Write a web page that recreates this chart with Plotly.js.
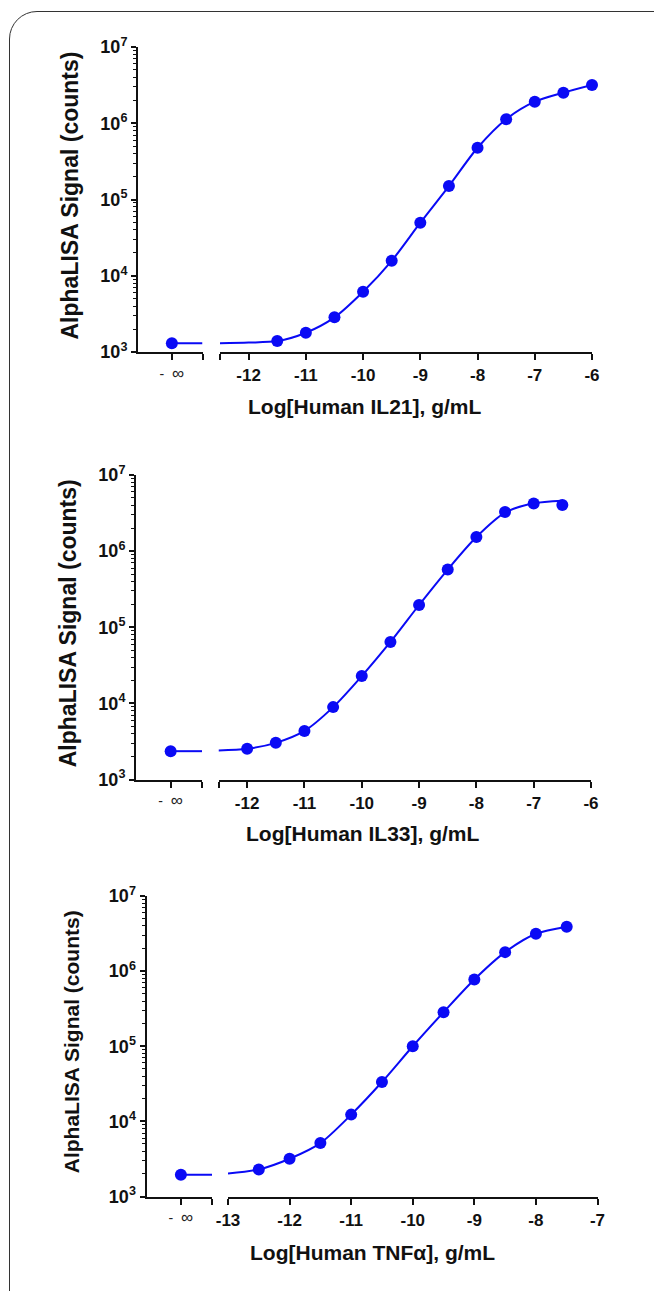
<!DOCTYPE html>
<html><head><meta charset="utf-8">
<script src="https://cdn.plot.ly/plotly-3.0.1.min.js"></script>
<style>
html,body{margin:0;padding:0;background:#fff;overflow:hidden;width:654px;height:1291px;}
#frame{position:absolute;left:9px;top:11px;width:700px;height:1400px;border:1.5px solid #333;border-radius:28px;box-sizing:border-box;}
#chart{position:absolute;left:0;top:0;width:654px;height:1291px;}
</style></head><body>
<div id="frame"></div>
<div id="chart"></div>
<script>
// ---------- data ----------
// measured points (log10 g/mL vs AlphaLISA counts)
const il21X = [-11.5,-11,-10.5,-10,-9.5,-9,-8.5,-8,-7.5,-7,-6.5,-6];
const il21Y = [1390,1790,2850,6180,15700,49600,150000,477000,1130000,1920000,2520000,3180000];
const il21Zero = 1300;   // signal at zero concentration (-inf)
// fitted curve
const il21FitX = [-12.5,-12,-11.5,-11,-10.5,-10,-9.5,-9,-8.5,-8,-7.5,-7,-6.5,-6];
const il21FitY = [1300,1330,1390,1790,2850,6180,15700,49600,150000,477000,1130000,1920000,2520000,3180000];

const il33X = [-12,-11.5,-11,-10.5,-10,-9.5,-9,-8.5,-8,-7.5,-7,-6.5];
const il33Y = [2530,3030,4350,8930,22850,64100,196000,573000,1530000,3260000,4230000,4030000];
const il33Zero = 2355;
const il33FitX = [-12.5,-12,-11.5,-11,-10.5,-10,-9.5,-9,-8.5,-8,-7.5,-7,-6.5];
const il33FitY = [2400,2530,3030,4350,8930,22850,64100,196000,573000,1530000,3200000,4250000,4600000];

const tnfX = [-12.5,-12,-11.5,-11,-10.5,-10,-9.5,-9,-8.5,-8,-7.5];
const tnfY = [2290,3180,5140,12300,33400,100000,284000,774000,1790000,3140000,3900000];
const tnfZero = 1947;
const tnfFitX = [-13,-12.5,-12,-11.5,-11,-10.5,-10,-9.5,-9,-8.5,-8,-7.5];
const tnfFitY = [2030,2290,3180,5140,12300,33400,100000,284000,774000,1790000,3140000,3900000];

const ticks1 = [-12,-11,-10,-9,-8,-7,-6];
const ticks2 = [-12,-11,-10,-9,-8,-7,-6];
const ticks3 = [-13,-12,-11,-10,-9,-8,-7];
const tickLabels1 = ['-12','-11','-10','-9','-8','-7','-6'];
const tickLabels2 = ['-12','-11','-10','-9','-8','-7','-6'];
const tickLabels3 = ['-13','-12','-11','-10','-9','-8','-7'];
const yTickVals = [1e3,1e4,1e5,1e6,1e7];
const yTickText = ['10<sup>3</sup>','10<sup>4</sup>','10<sup>5</sup>','10<sup>6</sup>','10<sup>7</sup>'];
const infLabel = '-  <span style="font-size:17px">\u221E</span>';
const xTitles = ['Log[Human IL21], g/mL','Log[Human IL33], g/mL','Log[Human TNF\u03B1], g/mL'];
const yTitle = 'AlphaLISA Signal (counts)';

// ---------- layout helpers ----------
const W = 654, H = 1291;
const BLUE = 'rgb(10,10,245)';
const FONT = 'Liberation Sans, Arial, sans-serif';
const px = v => v / W;
const py = v => (H - v) / H;
const infRange = [-1.05, 0.95];

const panels = [
  {x: il21X, y: il21Y, zero: il21Zero, fx: il21FitX, fy: il21FitY, range: [-12.5, -6], ticks: ticks1, labels: tickLabels1,
   yTop: 47, yBot: 352, ax: 138, infEnd: 202.5, mainStart: 220, mainEnd: 592, titleY: 406, titleX: 365, ytX: 69, ytsize: 23},
  {x: il33X, y: il33Y, zero: il33Zero, fx: il33FitX, fy: il33FitY, range: [-12.5, -6], ticks: ticks2, labels: tickLabels2,
   yTop: 475, yBot: 779.5, ax: 136, infEnd: 202, mainStart: 218.5, mainEnd: 591, titleY: 833, titleX: 363, ytX: 68, ytsize: 23},
  {x: tnfX, y: tnfY, zero: tnfZero, fx: tnfFitX, fy: tnfFitY, range: [-13, -7], ticks: ticks3, labels: tickLabels3,
   yTop: 896, yBot: 1196.5, ax: 146.5, infEnd: 212, mainStart: 228, mainEnd: 597.5, titleY: 1252, titleX: 372, ytX: 71, ytsize: 21}
];

const data = [];
const layout = {
  width: W, height: H,
  margin: {l: 0, r: 0, t: 0, b: 0},
  paper_bgcolor: 'rgba(0,0,0,0)', plot_bgcolor: 'rgba(0,0,0,0)',
  showlegend: false,
  font: {family: FONT, color: '#111'},
  annotations: []
};

panels.forEach((p, i) => {
  const xi = 2 * i + 1, xm = 2 * i + 2, yi = i + 1;
  const xInf = 'x' + xi, xMain = 'x' + xm, yRef = 'y' + yi;
  const xInfKey = 'xaxis' + (xi === 1 ? '' : xi), xMainKey = 'xaxis' + xm, yKey = 'yaxis' + (yi === 1 ? '' : yi);

  // zero-concentration segment: fitted baseline + point
  data.push({x: [0, infRange[1]], y: [p.zero, p.zero], xaxis: xInf, yaxis: yRef, mode: 'lines',
             line: {color: BLUE, width: 2}, cliponaxis: false, hoverinfo: 'skip'});
  data.push({x: [0], y: [p.zero], xaxis: xInf, yaxis: yRef, mode: 'markers',
             marker: {color: BLUE, size: 12}, cliponaxis: false});
  // fitted curve on main segment
  data.push({x: p.fx, y: p.fy, xaxis: xMain, yaxis: yRef, mode: 'lines',
             line: {color: BLUE, width: 2, shape: 'spline', smoothing: 0.8}, cliponaxis: false, hoverinfo: 'skip'});
  data.push({x: p.x, y: p.y, xaxis: xMain, yaxis: yRef, mode: 'markers',
             marker: {color: BLUE, size: 12}, cliponaxis: false});

  const axCommon = {showline: true, linecolor: '#111', linewidth: 2, ticks: 'outside', tickcolor: '#111',
                    tickwidth: 2, ticklen: 6, showgrid: false, zeroline: false, fixedrange: true};
  const capTick = v => ({tickmode: 'array', tickvals: [v], ticks: 'outside', ticklen: 6, tickwidth: 2, tickcolor: '#111', showgrid: false});
  layout[xInfKey] = Object.assign({}, axCommon, {
    domain: [px(p.ax), px(p.infEnd)], range: infRange, anchor: yRef,
    tickmode: 'array', tickvals: [0], ticktext: [infLabel],
    tickfont: {family: FONT, size: 14, color: '#222'}, ticklabelstandoff: 2,
    minor: capTick(infRange[1])
  });
  layout[xMainKey] = Object.assign({}, axCommon, {
    domain: [px(p.mainStart), px(p.mainEnd)], range: p.range, anchor: yRef,
    tickmode: 'array', tickvals: p.ticks, ticktext: p.labels,
    tickfont: {family: FONT, size: 17, weight: 'bold', color: '#111'}, ticklabelstandoff: 1,
    minor: capTick(p.range[0])
  });
  layout[yKey] = Object.assign({}, axCommon, {
    type: 'log', range: [3, 7], domain: [py(p.yBot), py(p.yTop)], anchor: xInf,
    tickmode: 'array', tickvals: yTickVals, ticktext: yTickText, ticklen: 5,
    tickfont: {family: FONT, size: 18, weight: 'bold', color: '#111'}, ticklabelstandoff: 0,
    minor: {ticks: 'outside', ticklen: 3, tickwidth: 1, tickcolor: '#111', dtick: 'D1', showgrid: false}
  });

  layout.annotations.push({xref: 'paper', yref: 'paper', x: px(p.titleX), y: py(p.titleY), text: xTitles[i],
    showarrow: false, xanchor: 'center', yanchor: 'middle',
    font: {family: FONT, size: 21, weight: 'bold', color: '#111'}});
  layout.annotations.push({xref: 'paper', yref: 'paper', x: px(p.ytX), y: py((p.yTop + p.yBot) / 2 - 4), text: yTitle,
    showarrow: false, textangle: -90, xanchor: 'center', yanchor: 'middle',
    font: {family: FONT, size: p.ytsize, weight: 'bold', color: '#111'}});
});

Plotly.newPlot('chart', data, layout, {staticPlot: true, displayModeBar: false});
</script>
</body></html>
